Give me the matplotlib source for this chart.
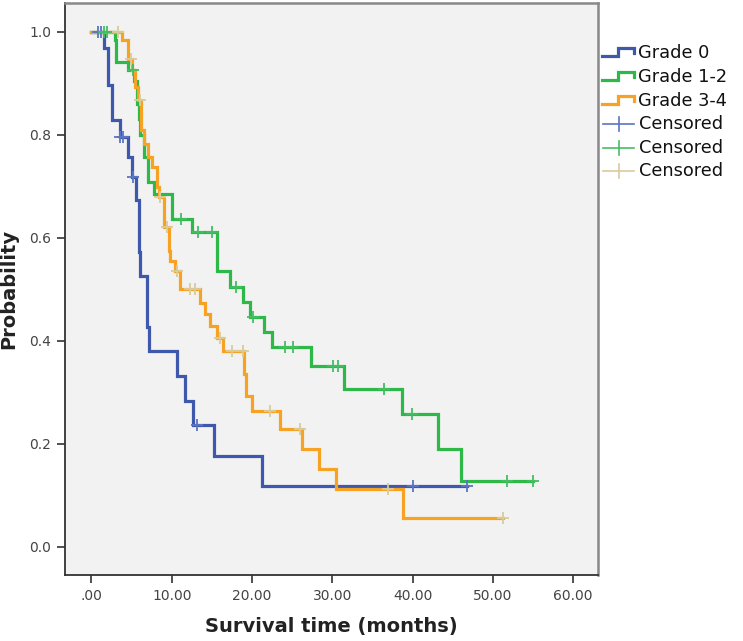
import numpy as np
import matplotlib
matplotlib.use('Agg')
import matplotlib.pyplot as plt
from matplotlib.ticker import FuncFormatter

# Kaplan-Meier step data (time in months, survival probability after the step)
grade0_t = [0, 1.57, 2.0, 2.5, 3.55, 4.6, 5.0, 5.6, 5.9, 6.0, 6.86, 6.95, 7.2, 10.7, 11.6, 12.6, 15.25, 21.3, 46.8]
grade0_s = [1.0, 0.968, 0.896, 0.828, 0.796, 0.757, 0.719, 0.673, 0.572, 0.526, 0.477, 0.426, 0.381, 0.331, 0.283, 0.237, 0.176, 0.118, 0.118]

grade12_t = [0, 2.9, 3.1, 4.57, 5.3, 5.7, 5.9, 6.1, 6.6, 7.0, 7.8, 10.0, 12.5, 15.6, 17.2, 18.9, 19.7, 21.5, 22.5, 27.4, 31.4, 38.65, 43.2, 46.0, 55.0]
grade12_s = [1.0, 0.984, 0.942, 0.925, 0.905, 0.86, 0.83, 0.80, 0.757, 0.708, 0.685, 0.637, 0.612, 0.535, 0.505, 0.475, 0.446, 0.417, 0.387, 0.351, 0.307, 0.257, 0.19, 0.128, 0.128]

grade34_t = [0, 3.74, 4.57, 5.0, 5.4, 5.8, 6.2, 6.6, 7.0, 7.6, 8.1, 8.45, 9.0, 9.6, 9.8, 10.4, 11.0, 13.5, 14.1, 14.75, 15.6, 16.4, 19.0, 19.2, 20.0, 23.5, 26.2, 28.4, 30.5, 38.85, 51.3]
grade34_s = [1.0, 0.984, 0.948, 0.925, 0.893, 0.867, 0.809, 0.783, 0.757, 0.737, 0.698, 0.679, 0.62, 0.575, 0.555, 0.536, 0.50, 0.474, 0.452, 0.429, 0.406, 0.38, 0.335, 0.292, 0.263, 0.228, 0.189, 0.15, 0.113, 0.056, 0.056]

# censored times
grade0_cens = [0.8, 1.2, 3.6, 3.9, 5.2, 13.1, 40.1, 46.8]
grade12_cens = [1.5, 1.9, 5.2, 11.2, 13.3, 15.0, 18.0, 20.1, 24.1, 25.1, 30.1, 30.7, 36.4, 39.9, 51.8, 55.0]
grade34_cens = [3.3, 4.9, 6.0, 8.5, 9.35, 10.6, 12.3, 12.9, 16.0, 17.45, 18.9, 22.2, 26.0, 36.9, 51.3]

labels = ['Grade 0', 'Grade 1-2', 'Grade 3-4']
line_colors = ['#3e58ac', '#2eb848', '#f8a223']
cens_colors = ['#5b74c4', '#45bd63', '#d8cb9c']

x_ticks = [0, 10, 20, 30, 40, 50, 60]
y_ticks = [0.0, 0.2, 0.4, 0.6, 0.8, 1.0]


def surv_at(times, surv, t):
    idx = np.searchsorted(times, t, side='right') - 1
    return np.array(surv)[idx]


fig = plt.figure(figsize=(7.43, 6.41), dpi=100)
ax = fig.add_axes([65 / 743, 66 / 641, 533 / 743, 572 / 641])
ax.set_facecolor('#f2f2f2')

curves = [(grade0_t, grade0_s, grade0_cens),
          (grade12_t, grade12_s, grade12_cens),
          (grade34_t, grade34_s, grade34_cens)]

for (t, s, c), col in zip(curves, line_colors):
    ax.step(t, s, where='post', color=col, lw=2.3, solid_joinstyle='miter', zorder=2)

for (t, s, c), col in zip(curves, cens_colors):
    ax.plot(c, surv_at(t, s, c), ls='none', marker='+', ms=8, mew=1.3, color=col, zorder=3)

ax.set_xlim(-3.3, 63.1)
ax.set_ylim(-0.055, 1.056)
ax.set_xticks(x_ticks)
ax.set_yticks(y_ticks)
ax.xaxis.set_major_formatter(FuncFormatter(lambda v, p: ('%.2f' % v).lstrip('0') if v == 0 else '%.2f' % v))
ax.yaxis.set_major_formatter(FuncFormatter(lambda v, p: '%.1f' % v))
ax.tick_params(direction='out', length=6, width=1.2, color='#333333', labelcolor='#444444', labelsize=10, pad=4)

for side in ['left', 'bottom']:
    ax.spines[side].set_color('#333333')
    ax.spines[side].set_linewidth(1.3)
for side in ['top', 'right']:
    ax.spines[side].set_color('#888888')
    ax.spines[side].set_linewidth(1.8)

ax.set_xlabel('Survival time (months)', fontsize=14, fontweight='bold', color='#222222', labelpad=10)
ax.set_ylabel('Probability', fontsize=14, fontweight='bold', color='#222222', labelpad=8)

# legend drawn in pixel space to the right of the plot
lax = fig.add_axes([0, 0, 1, 1], facecolor='none')
lax.set_xlim(0, 743)
lax.set_ylim(641, 0)
lax.axis('off')

row_y = 53.3
for lab, col in zip(labels, line_colors):
    lax.plot([602, 618, 618, 633.5, 633.5], [row_y + 3, row_y + 3, row_y - 5, row_y - 5, row_y],
             color=col, lw=2.3, solid_joinstyle='miter')
    lax.text(638.5, row_y, lab, fontsize=12.8, va='center', ha='left', color='#111111')
    row_y += 23.7
for col in cens_colors:
    lax.plot([603, 634], [row_y, row_y], color=col, lw=1.2)
    lax.plot([618.5, 618.5], [row_y - 7, row_y + 7], color=col, lw=1.2)
    lax.text(638.5, row_y, 'Censored', fontsize=12.8, va='center', ha='left', color='#111111')
    row_y += 23.2

fig.savefig('out.png', dpi=100)
